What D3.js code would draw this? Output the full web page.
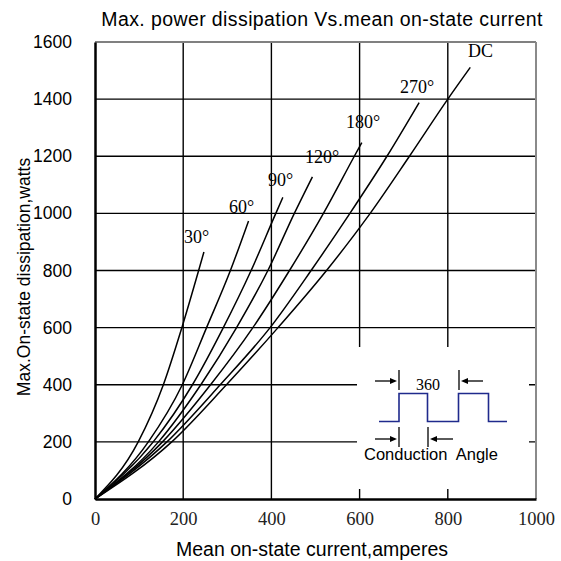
<!DOCTYPE html>
<html>
<head>
<meta charset="utf-8">
<script src="https://cdn.jsdelivr.net/npm/d3@7"></script>
<style>
  html, body { margin: 0; padding: 0; background: #fff; }
  svg { display: block; }
</style>
</head>
<body>
<svg id="chart" width="561" height="561"></svg>
<script>
// Power levels (watts) at which each curve is sampled
const powerLevels = [0, 200, 400, 600, 800, 1000, 1200, 1400];

// Mean on-state current (A) for each conduction angle at the power levels above,
// followed by the curve's last point [current, power]
const curve30  = { label: "30°",  current: [0, 98, 155, 197, 235],            end: [247, 865] };
const curve60  = { label: "60°",  current: [0, 121, 198, 253, 307],           end: [348, 973] };
const curve90  = { label: "90°",  current: [0, 132, 221, 291, 354, 410],      end: [426, 1056] };
const curve120 = { label: "120°", current: [0, 144, 240, 321, 392, 452],      end: [493, 1128] };
const curve180 = { label: "180°", current: [0, 153, 262, 358, 441, 518, 588], end: [605, 1248] };
const curve270 = { label: "270°", current: [0, 163, 284, 397, 490, 578, 662], end: [735, 1388] };
const curveDC  = { label: "DC",   current: [0, 174, 298, 415, 525, 624, 713, 800], end: [851, 1511] };
const curves = [curve30, curve60, curve90, curve120, curve180, curve270, curveDC];

const xTicks = [0, 200, 400, 600, 800, 1000];
const yTicks = [0, 200, 400, 600, 800, 1000, 1200, 1400, 1600];

const svg = d3.select("#chart");
const x = d3.scaleLinear().domain([0, 1000]).range([95, 536]);
const y = d3.scaleLinear().domain([0, 1600]).range([499, 42]);

const SERIF = "'Liberation Serif', 'Times New Roman', serif";
const SANS = "'Liberation Sans', Arial, sans-serif";

// Title
svg.append("text")
  .attr("x", 322).attr("y", 26)
  .attr("text-anchor", "middle")
  .attr("font-family", SANS).attr("font-size", 19.5)
  .attr("letter-spacing", 0.4)
  .text("Max. power dissipation Vs.mean on-state current");

// Grid
const grid = svg.append("g").attr("stroke", "#000").attr("stroke-width", 1.4);
grid.selectAll("line.v").data(xTicks.slice(1, -1)).join("line")
  .attr("x1", d => x(d)).attr("x2", d => x(d))
  .attr("y1", y(0)).attr("y2", y(1600));
grid.selectAll("line.h").data(yTicks.slice(1, -1)).join("line")
  .attr("x1", x(0)).attr("x2", x(1000))
  .attr("y1", d => y(d)).attr("y2", d => y(d));

// Frame: grey top/right, heavy black left/bottom
svg.append("line").attr("x1", x(0)).attr("x2", x(1000)).attr("y1", y(1600)).attr("y2", y(1600))
  .attr("stroke", "#808080").attr("stroke-width", 2);
svg.append("line").attr("x1", x(1000)).attr("x2", x(1000)).attr("y1", y(1600)).attr("y2", y(0))
  .attr("stroke", "#8a8a8a").attr("stroke-width", 2);

// X axis
const xAxis = svg.append("g")
  .attr("transform", `translate(0,${y(0)})`)
  .call(d3.axisBottom(x).tickValues(xTicks).tickSize(0).tickPadding(13).tickFormat(d3.format("d")));
xAxis.select(".domain").attr("stroke", "#000").attr("stroke-width", 2.5);
xAxis.selectAll("text").attr("font-family", SERIF).attr("font-size", 18.5).attr("fill", "#222");

// Y axis
const yAxis = svg.append("g")
  .attr("transform", `translate(${x(0)},0)`)
  .call(d3.axisLeft(y).tickValues(yTicks).tickSize(0).tickPadding(23).tickFormat(d3.format("d")));
yAxis.select(".domain").attr("stroke", "#000").attr("stroke-width", 2.5);
yAxis.selectAll("text").attr("font-family", SANS).attr("font-size", 17.5).attr("fill", "#000");

// Axis titles
svg.append("text")
  .attr("x", 312).attr("y", 556)
  .attr("text-anchor", "middle")
  .attr("font-family", SANS).attr("font-size", 19.5)
  .text("Mean on-state current,amperes");
svg.append("text")
  .attr("transform", "translate(30,277) rotate(-90)")
  .attr("text-anchor", "middle")
  .attr("font-family", SANS).attr("font-size", 17.5)
  .text("Max.On-state dissipation,watts");

// Curves
const line = d3.line().x(d => x(d[0])).y(d => y(d[1])).curve(d3.curveMonotoneX);
curves.forEach(c => {
  const pts = c.current.map((cur, i) => [cur, powerLevels[i]]);
  pts.push(c.end);
  svg.append("path").datum(pts)
    .attr("d", line)
    .attr("fill", "none").attr("stroke", "#000").attr("stroke-width", 1.5);
});

// Curve labels
const labelPos = {
  "30°": [184, 243], "60°": [229, 213], "90°": [268, 186], "120°": [305, 163],
  "180°": [346, 128], "270°": [400, 93], "DC": [468, 57]
};
curves.forEach(c => {
  svg.append("text")
    .attr("x", labelPos[c.label][0]).attr("y", labelPos[c.label][1])
    .attr("font-family", SERIF).attr("font-size", 18)
    .text(c.label);
});

// Inset: waveform sketch explaining conduction angle
const inset = svg.append("g");
inset.append("rect").attr("x", 357).attr("y", 347).attr("width", 172).attr("height", 142).attr("fill", "#fff");
const hi = 393.5, lo = 421.5;
const wave = [[379, lo], [399, lo], [399, hi], [427.5, hi], [427.5, lo], [458.5, lo], [458.5, hi], [488.5, hi], [488.5, lo], [507, lo]];
inset.append("path").attr("d", d3.line()(wave))
  .attr("fill", "none").attr("stroke", "#1f2a8c").attr("stroke-width", 1.6);

function bar(xp, y1, y2) {
  inset.append("line").attr("x1", xp).attr("x2", xp).attr("y1", y1).attr("y2", y2)
    .attr("stroke", "#000").attr("stroke-width", 1.3);
}
function arrow(x1, x2, yp) {
  // shaft from x1 to x2, head at x2
  const dir = Math.sign(x2 - x1);
  inset.append("line").attr("x1", x1).attr("x2", x2 - dir * 5).attr("y1", yp).attr("y2", yp)
    .attr("stroke", "#000").attr("stroke-width", 1.3);
  inset.append("path")
    .attr("d", `M${x2},${yp} L${x2 - dir * 7},${yp - 3} L${x2 - dir * 7},${yp + 3} Z`)
    .attr("fill", "#000");
}
bar(399, 370, 390); bar(459, 370, 390);
arrow(375, 397, 381); arrow(483, 461, 381);
inset.append("text").attr("x", 428).attr("y", 390).attr("text-anchor", "middle")
  .attr("font-family", SERIF).attr("font-size", 16).text("360");
bar(399, 427, 447); bar(428, 427, 447);
arrow(375, 397, 439); arrow(453, 430, 439);
inset.append("text").attr("x", 364).attr("y", 460)
  .attr("font-family", SANS).attr("font-size", 16.5)
  .attr("xml:space", "preserve").style("white-space", "pre")
  .text("Conduction  Angle");
</script>
</body>
</html>
